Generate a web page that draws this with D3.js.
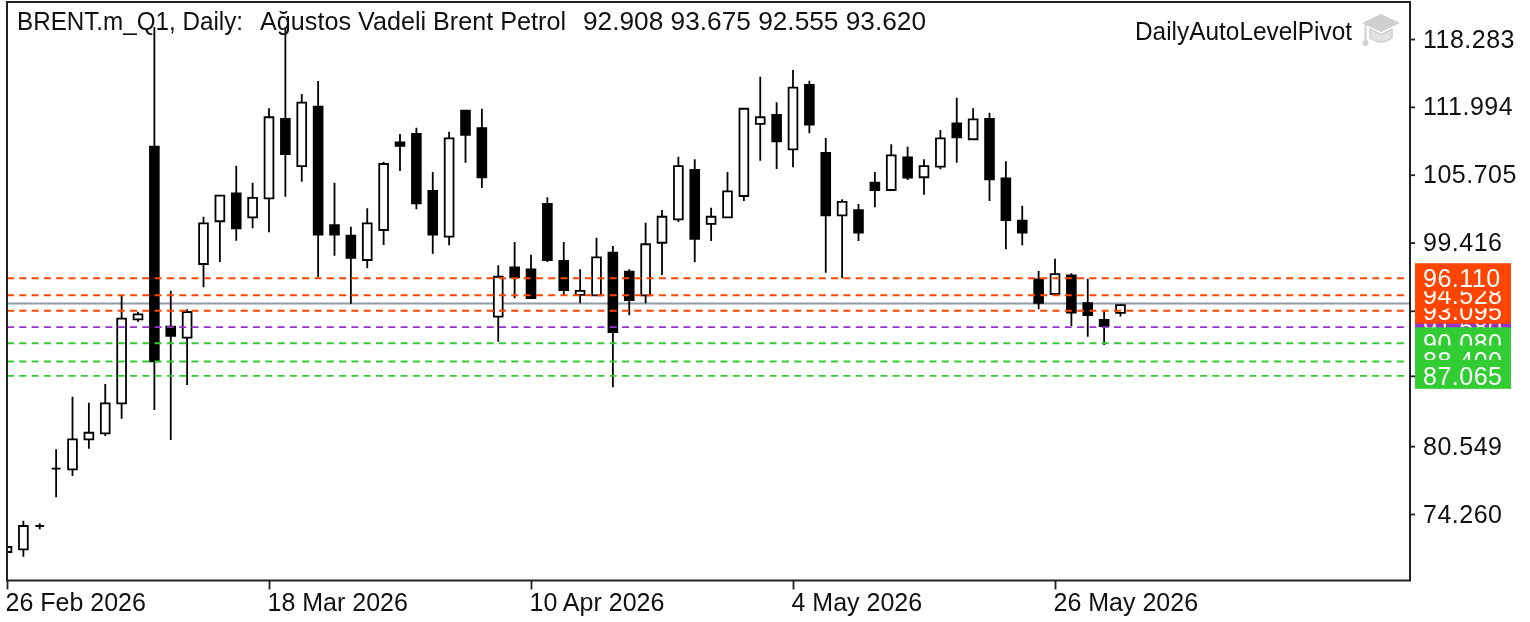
<!doctype html>
<html>
  <head>
    <meta charset="utf-8">
    <title>BRENT.m_Q1, Daily</title>
    <script src="https://d3js.org/d3.v7.min.js"></script>
    <style>
      html, body { margin: 0; background: #fff; }
      svg { display: block; filter: blur(0.45px); }
      text { font-family: "Liberation Sans", Arial, sans-serif; font-size: 25px; fill: #111; }
      .price-text { letter-spacing: 0.5px; }
    </style>
  </head>
  <body>
    <script>
      const svgWidth = 1530;
      const svgHeight = 622;

      // daily bars
      const opens = [70.74,70.99,73.15,78.46,78.40,81.18,81.74,84.52,92.30,108.30,91.62,90.60,97.43,101.39,103.98,101.76,103.52,110.87,106.51,112.01,101.04,100.05,97.80,100.58,108.71,109.48,104.20,99.96,111.64,110.03,92.55,97.12,96.94,102.99,97.71,94.56,94.53,98.48,96.72,94.53,99.40,101.57,106.14,101.14,101.76,103.73,110.41,111.24,108.06,114.02,107.72,101.94,102.43,104.96,104.29,107.32,105.47,106.45,110.47,108.99,110.87,105.37,101.44,96.01,94.65,96.38,93.79,92.24,92.908];
      const highs = [71.20,73.64,73.40,80.26,85.13,84.58,86.31,94.53,93.01,119.40,94.96,93.23,101.81,103.82,106.54,104.96,111.86,119.40,113.19,114.39,104.96,100.89,102.59,106.91,109.48,110.06,105.96,109.69,111.64,111.82,97.31,99.47,98.29,103.61,99.47,96.94,99.87,99.10,96.94,101.26,102.43,107.37,107.13,102.65,105.96,111.82,114.79,112.42,115.41,114.42,109.11,103.43,102.99,105.96,108.52,108.30,107.13,109.85,112.84,111.86,111.45,106.95,102.83,96.78,97.92,96.57,96.07,93.07,93.675];
      const lows = [70.74,70.30,72.84,75.81,77.78,80.31,81.49,83.09,92.08,83.90,81.12,86.22,95.27,97.62,99.59,100.74,100.37,103.67,105.06,96.20,98.20,93.72,97.03,99.19,106.05,102.50,98.38,99.16,106.82,104.47,90.23,94.25,94.28,97.62,94.56,93.79,94.53,86.00,92.68,93.79,96.41,101.32,97.59,99.56,101.76,103.27,107.00,106.23,106.39,109.54,96.62,96.10,99.56,102.68,104.29,105.22,103.85,106.21,106.82,108.99,103.27,98.79,99.16,93.23,94.65,91.68,90.69,89.92,92.555];
      const closes = [71.20,73.15,73.15,78.46,81.18,81.79,84.52,92.36,92.77,88.41,90.76,92.98,101.20,103.76,100.74,103.55,111.03,107.62,112.38,100.15,100.15,98.01,101.20,106.70,108.37,103.06,100.15,109.08,109.39,105.47,96.25,96.20,94.28,97.80,95.02,94.93,98.05,91.13,94.09,99.26,101.81,106.51,99.77,101.81,104.17,111.82,111.03,108.80,113.77,110.34,101.94,103.18,100.33,104.29,107.50,105.43,106.51,109.08,109.17,110.84,105.28,101.51,100.33,93.84,96.50,92.92,92.70,91.68,93.620];

      const priceTicks = [118.283, 111.994, 105.705, 99.416, 80.549, 74.260];
      const dateTickBars = [0, 16, 32, 48, 64];
      const dateTickLabels = ['26 Feb 2026', '18 Mar 2026', '10 Apr 2026', '4 May 2026', '26 May 2026'];

      // pivot levels
      const resistance = [93.095, 94.528, 96.110];
      const pivot = [91.580];
      const support = [90.080, 88.400, 87.065];
      const lastPrice = 93.760;

      const titleParts = [
        { text: 'BRENT.m_Q1, Daily:', from: 17, to: 243 },
        { text: 'Ağustos Vadeli Brent Petrol', from: 260, to: 566 },
        { text: '92.908 93.675 92.555 93.620', from: 583, to: 926 }
      ];
      const indicatorName = 'DailyAutoLevelPivot';

      const plot = { left: 7, right: 1410, top: 2, bottom: 580.5 };

      const svg = d3.select('body').append('svg')
          .attr('width', svgWidth)
          .attr('height', svgHeight);

      const x = d3.scaleLinear().domain([0, 68]).range([7, 1120.5]);
      const y = d3.scaleLinear().domain([118.283, 74.260]).range([39, 514]);

      svg.append('defs').append('clipPath').attr('id', 'plot-clip')
        .append('rect')
          .attr('x', plot.left).attr('y', plot.top)
          .attr('width', plot.right - plot.left)
          .attr('height', plot.bottom - plot.top);

      const chart = svg.append('g').attr('clip-path', 'url(#plot-clip)');

      // current price line goes under the bars
      chart.append('line')
          .attr('x1', plot.left).attr('x2', plot.right)
          .attr('y1', y(lastPrice)).attr('y2', y(lastPrice))
          .attr('stroke', '#8e9cab')
          .attr('stroke-width', 2);

      // candles
      const bars = chart.append('g')
        .selectAll('g')
        .data(d3.range(opens.length))
        .enter().append('g');

      bars.append('line')
          .attr('x1', i => x(i)).attr('x2', i => x(i))
          .attr('y1', i => y(highs[i])).attr('y2', i => y(lows[i]))
          .attr('stroke', '#000')
          .attr('stroke-width', 1.8);

      // a path and not a rect, a doji has no height and must still show its bar
      bars.append('path')
          .attr('d', i => {
            const top = y(Math.max(opens[i], closes[i]));
            const bottom = y(Math.min(opens[i], closes[i]));
            const p = d3.path();
            p.moveTo(x(i) - 4.4, top);
            p.lineTo(x(i) + 4.4, top);
            p.lineTo(x(i) + 4.4, bottom);
            p.lineTo(x(i) - 4.4, bottom);
            p.closePath();
            return p.toString();
          })
          .attr('fill', i => closes[i] < opens[i] ? '#000' : '#fff')
          .attr('stroke', '#000')
          .attr('stroke-width', 1.8);

      // level lines on top of the bars
      const levels = [
        ...resistance.map(v => ({ v, color: '#ff4500' })),
        ...pivot.map(v => ({ v, color: '#9932cc' })),
        ...support.map(v => ({ v, color: '#32cd32' }))
      ];

      chart.append('g')
        .selectAll('line')
        .data(levels)
        .enter().append('line')
          .attr('x1', plot.left).attr('x2', plot.right)
          .attr('y1', d => y(d.v)).attr('y2', d => y(d.v))
          .attr('stroke', d => d.color)
          .attr('stroke-width', 1.9)
          .attr('stroke-dasharray', '7 5.3');

      // frame
      svg.append('rect')
          .attr('x', plot.left).attr('y', plot.top)
          .attr('width', plot.right - plot.left)
          .attr('height', plot.bottom - plot.top)
          .attr('fill', 'none')
          .attr('stroke', '#222')
          .attr('stroke-width', 2);

      // axes
      const yAxis = svg.append('g')
          .attr('transform', `translate(${plot.right},0)`)
          .call(d3.axisRight(y)
            .tickValues([...priceTicks, resistance[0], support[2]])
            .tickFormat(d3.format('.3f'))
            .tickSize(5)
            .tickPadding(8));
      yAxis.select('.domain').remove();
      yAxis.selectAll('line').attr('stroke', '#222').attr('stroke-width', 1.8);
      yAxis.selectAll('text')
          .attr('class', 'price-text')
          .attr('font-size', null).attr('font-family', null)
          .attr('display', d => priceTicks.includes(d) ? null : 'none');

      const xAxis = svg.append('g')
          .attr('transform', `translate(0,${plot.bottom})`)
          .call(d3.axisBottom(x)
            .tickValues(dateTickBars)
            .tickFormat((d, i) => dateTickLabels[i])
            .tickSize(9)
            .tickPadding(4));
      xAxis.select('.domain').remove();
      xAxis.selectAll('line').attr('stroke', '#222').attr('stroke-width', 1.8);
      xAxis.selectAll('text')
          .attr('text-anchor', 'start')
          .attr('dx', -2)
          .attr('font-size', null).attr('font-family', null);

      // price labels, drawn so the outer level of each side stays on top
      const labelTag = (v, color, up) => {
        const g = svg.append('g');
        g.append('rect')
            .attr('x', 1415).attr('width', 96)
            .attr('y', y(v) - up).attr('height', up + 13)
            .attr('fill', color);
        g.append('text')
            .attr('class', 'price-text')
            .attr('x', 1423).attr('y', y(v) + 9)
            .style('fill', '#fff')
            .text(d3.format('.3f')(v));
      };
      pivot.forEach(v => labelTag(v, '#9932cc', 15));
      resistance.forEach(v => labelTag(v, '#ff4500', 15));
      support.forEach(v => labelTag(v, '#32cd32', 16));

      // header
      svg.append('g')
        .selectAll('text')
        .data(titleParts)
        .enter().append('text')
          .attr('x', d => d.from).attr('y', 30)
          .attr('textLength', d => d.to - d.from)
          .attr('lengthAdjust', 'spacingAndGlyphs')
          .text(d => d.text);

      svg.append('text')
          .attr('x', 1135).attr('y', 40)
          .attr('textLength', 217)
          .attr('lengthAdjust', 'spacingAndGlyphs')
          .text(indicatorName);

      // graduation cap
      const cap = svg.append('g').attr('transform', 'translate(1362,14)').attr('fill', '#cfcfcf');
      cap.append('path').attr('d', 'M19 0 L38 9 L19 18 L0 9 Z');
      cap.append('path').attr('d', 'M8 15 L19 21 L30 15 L30 24 Q19 32 8 24 Z').attr('fill', '#e2e2e2').attr('stroke', '#cfcfcf').attr('stroke-width', 1.5);
      cap.append('rect').attr('x', 2.5).attr('y', 10).attr('width', 2).attr('height', 17);
      cap.append('circle').attr('cx', 3.5).attr('cy', 29).attr('r', 3);
    </script>
  </body>
</html>
